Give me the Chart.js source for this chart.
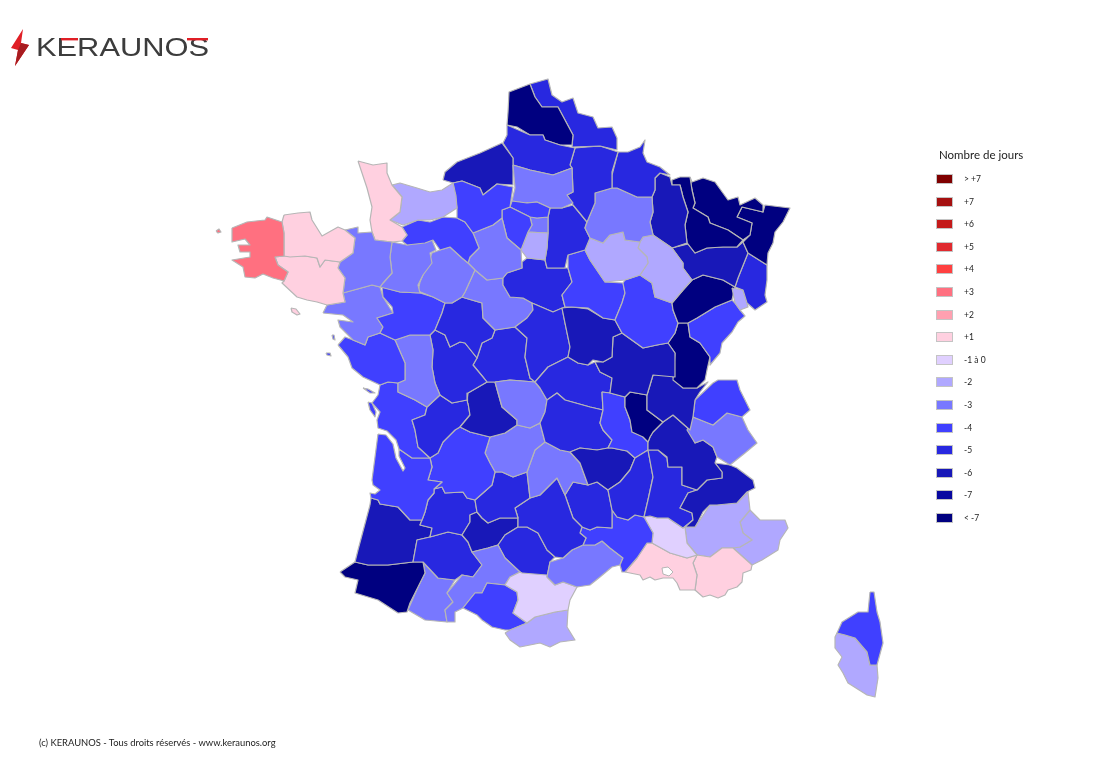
<!DOCTYPE html>
<html lang="fr">
<head>
<meta charset="utf-8">
<title>Nombre de jours - KERAUNOS</title>
<script src="https://cdn.jsdelivr.net/npm/chart.js@4/dist/chart.umd.min.js"></script>
<style>
  html, body { margin: 0; padding: 0; background: #fff; }
  body { width: 1098px; height: 777px; position: relative; overflow: hidden; font-family: Lato, "Open Sans", sans-serif; color: #222; }
  canvas { position: absolute; left: 0; top: 0; }
  #logo { position: absolute; left: 0; top: 20px; }
  #legendTitle { position: absolute; left: 939px; top: 148px; font-size: 11.5px; white-space: nowrap; }
  #footer { position: absolute; left: 39px; top: 737px; font-size: 9.4px; white-space: nowrap; }
  .swatch { position: absolute; left: 936px; width: 15px; height: 8px; border: 1px solid #c4c4c4; }
  .swatchLabel { position: absolute; left: 964px; font-size: 8.5px; line-height: 10px; white-space: nowrap; }
</style>
</head>
<body>
<canvas id="map" width="1098" height="777"></canvas>
<svg id="logo" width="220" height="55" viewBox="0 0 220 55">
  <polygon points="11,28 23,9 21,23 29,25 15,46 18,30" fill="#e01f26"/>
  <polygon points="21,23 29,25 15,46 18,30" fill="#a81c20"/>
  <text x="36" y="36" font-family="'Liberation Sans', sans-serif" font-size="25" fill="#3c3c3c" textLength="173" lengthAdjust="spacingAndGlyphs">KERAUNOS</text>
  <rect x="61" y="18" width="17" height="2.4" fill="#e01f26"/>
  <rect x="187" y="18" width="21" height="2.4" fill="#e01f26"/>
</svg>
<div id="legendTitle">Nombre de jours</div>
<div id="footer">(c) KERAUNOS - Tous droits réservés - www.keraunos.org</div>
<script>
// legend classes, top to bottom
const legendLabels = ["> +7", "+7", "+6", "+5", "+4", "+3", "+2", "+1", "-1 à 0", "-2", "-3", "-4", "-5", "-6", "-7", "< -7"];
const legendDays = [8, 7, 6, 5, 4, 3, 2, 1, -1, -2, -3, -4, -5, -6, -7, -8];
const legendColors = ["#7f0000", "#a51010", "#c41a1a", "#e02a2f", "#ff4040", "#ff7080", "#ffa0b0", "#ffd0e0",
  "#e0d0ff", "#b0a8ff", "#7878ff", "#4040ff", "#2828e0", "#1818b8", "#0808a0", "#000080"];

// department outlines, x,y pairs in map units
const finistere = [232,228,247,222,265,220,267,217,282,222,284,233,284,256,275,257,278,265,288,272,284,281,273,278,263,274,255,278,245,277,243,267,232,260,250,257,250,252,240,252,238,245,250,245,245,239,232,242];
const cotesArmor = [284,215,298,213,310,212,312,220,322,236,338,227,345,230,355,238,353,253,340,262,325,260,320,267,317,258,305,256,290,257,284,256,284,233,282,222];
const morbihan = [275,257,284,256,305,256,317,258,320,267,325,260,340,262,338,268,345,278,343,293,345,302,327,305,317,302,307,300,297,297,282,283,284,281,288,272,278,265];
const illeVilaine = [345,230,358,227,358,233,372,232,375,240,392,242,390,257,392,273,383,283,380,287,372,285,343,293,345,278,338,268,340,262,353,253,355,238];
const manche = [358,161,373,165,387,163,387,173,392,185,402,197,400,212,390,220,402,227,407,235,402,241,392,242,375,240,372,232,370,220,372,207,367,188,362,173];
const calvados = [392,185,400,183,417,188,430,192,442,190,453,183,456,196,457,208,443,217,430,220,418,220,403,225,390,220,400,212,402,197];
const eure = [453,183,462,181,480,188,483,195,497,184,513,187,510,207,502,210,502,218,493,225,473,233,465,222,457,218,457,208];
const orne = [402,227,418,220,430,222,443,217,457,218,465,222,473,233,479,248,470,257,468,263,462,258,450,247,440,250,433,240,425,243,407,245,402,241,407,235];
const mayenne = [392,242,407,245,427,242,432,240,436,250,430,253,432,263,423,275,418,285,420,293,400,292,380,287,383,283,392,273,390,257];
const sarthe = [418,291,420,282,428,263,432,253,440,250,450,247,462,258,468,263,475,270,465,292,462,297,452,303,445,303,433,297];
const eureLoir = [473,233,493,225,502,218,507,238,521,250,522,268,507,273,503,278,487,280,475,270,468,263,470,257,479,248];
const yvelines = [502,210,510,207,530,217,532,225,528,232,521,250,507,238,502,218];
const valOise = [510,207,512,201,527,203,537,202,550,208,548,217,537,218,530,217];
const essonne = [528,232,548,233,547,248,545,260,527,258,521,250];
const petiteCouronne = [530,217,537,218,548,217,548,233,528,232,532,225];
const paris = [534,224,540,221,545,225,539,228];
const oise = [513,165,530,170,553,175,572,168,573,192,567,195,573,203,562,208,550,208,537,202,525,203,512,201,515,188];
const seineMaritime = [443,180,445,172,457,162,480,153,502,143,513,158,513,185,497,184,483,195,480,188,462,181,453,183];
const somme = [503,143,507,135,507,125,530,135,543,135,545,140,560,145,575,148,570,165,572,168,553,175,530,170,513,165,513,158];
const pasDeCalais = [508,112,509,92,530,84,535,97,542,107,558,107,573,135,572,145,560,145,545,140,543,135,530,135,517,127,507,125];
const nord = [530,84,548,79,552,95,562,102,573,98,578,113,593,117,598,128,612,127,617,138,617,150,600,146,572,147,573,135,558,107,542,107,535,97];
const aisne = [575,148,600,146,618,152,612,172,612,188,595,193,595,203,587,222,573,205,567,195,573,192,572,168,570,165];
const ardennes = [618,152,628,152,640,147,645,140,643,153,647,162,660,167,670,175,660,173,655,178,655,190,652,197,637,197,617,188,612,188,612,175];
const marne = [587,222,595,203,595,193,612,188,617,188,637,197,652,197,653,212,650,222,653,235,643,237,640,242,625,240,623,232,610,235,603,243,590,238,585,228];
const seineMarne = [550,208,562,208,573,205,587,222,585,228,590,238,585,250,568,255,565,268,547,268,545,260,547,248,548,233,548,217];
const aube = [585,250,590,238,603,243,610,235,623,232,625,240,640,242,638,248,647,257,648,263,640,275,625,280,605,282,590,260];
const hauteMarne = [640,242,643,237,653,235,672,248,683,263,683,268,692,280,683,290,672,303,655,297,652,283,640,275,648,263,647,257,638,248];
const meuse = [655,178,660,173,670,177,672,185,680,185,683,197,688,212,685,225,687,243,672,248,653,235,650,222,653,212,652,197,655,190];
const meurtheMoselle = [672,180,680,177,690,177,692,190,695,203,693,208,708,217,710,223,728,230,743,240,737,247,723,247,707,248,695,253,688,244,687,243,685,225,688,212,683,197,680,185,672,185];
const moselle = [690,177,692,182,703,178,715,182,728,200,738,197,740,205,755,198,763,205,763,212,742,207,737,217,752,223,750,235,743,240,728,230,710,223,708,217,693,208,695,203,692,190];
const basRhin = [742,207,763,212,765,205,790,208,783,222,775,232,773,243,768,253,767,265,748,253,743,242,750,235,752,223,737,217];
const vosges = [672,248,688,244,695,253,707,248,723,247,737,247,743,242,748,253,738,278,735,287,723,280,703,275,692,280,683,268,683,263];
const hautRhin = [748,253,767,265,767,280,765,295,767,302,755,310,747,303,743,290,735,287,738,278];
const belfort = [732,288,743,290,747,303,748,307,740,310,735,303];
const hauteSaone = [672,303,683,290,692,280,703,275,723,280,735,287,732,300,715,307,697,318,688,323,678,323,673,310];
const doubs = [688,323,697,318,715,307,732,300,735,303,740,310,745,316,738,322,732,332,722,343,720,353,710,365,710,357,700,343,690,337];
const coteOr = [623,283,625,280,640,275,652,283,655,297,672,303,673,310,678,323,675,333,668,343,657,345,643,348,622,333,615,320,622,303,625,293];
const yonne = [568,268,572,282,562,295,565,307,572,307,588,308,603,318,615,320,622,303,625,293,623,283,605,282,590,260,585,250,568,255];
const nievre = [562,308,572,307,588,309,603,318,615,320,622,333,613,337,612,357,603,362,593,360,588,365,578,363,568,357,570,347,565,323];
const saoneLoire = [595,362,603,362,612,357,613,337,622,333,643,348,657,345,668,343,675,353,675,377,653,375,647,395,630,392,625,397,610,393,612,378,600,372];
const jura = [678,323,688,323,690,337,700,343,710,357,707,370,705,380,697,388,683,388,673,380,675,353,668,343,675,333];
const ain = [653,375,667,374,675,378,683,388,697,388,708,382,700,392,695,400,693,417,690,430,673,415,663,422,647,410,647,395];
const hauteSavoie = [695,400,713,383,718,380,737,380,740,390,750,410,742,417,727,413,713,425,693,417];
const savoie = [693,417,713,425,727,413,742,417,748,430,757,443,745,453,730,465,717,457,713,447,703,440,695,443,687,430];
const rhone = [630,392,647,395,647,410,663,422,653,432,650,437,648,442,643,437,632,432,630,420,625,407,625,397];
const isere = [663,422,673,415,690,430,695,443,703,440,713,447,717,457,715,463,722,472,722,478,707,480,697,490,682,485,682,467,668,467,667,457,658,450,648,450,648,442,650,437,653,432];
const hautesAlpes = [715,463,730,465,737,468,753,480,755,488,747,492,737,503,717,505,710,505,703,512,698,522,695,527,685,527,693,520,692,513,680,508,688,493,697,490,707,480,722,478,722,472];
const drome = [648,450,658,450,667,458,668,467,682,467,682,485,697,490,688,493,680,508,692,513,693,520,683,528,668,518,657,518,650,516,644,517,648,500,653,477];
const ardeche = [648,450,653,477,648,500,644,517,635,515,628,520,617,517,612,510,608,490,620,482,630,470,635,458];
const loire = [602,392,610,393,625,397,625,407,630,420,632,432,642,436,648,442,648,450,635,458,627,451,612,448,608,448,612,440,603,430,600,423,603,410];
const hauteLoire = [570,452,580,448,597,450,608,448,612,448,627,451,635,458,630,470,620,482,608,490,597,482,588,485,580,463];
const puyDeDome = [547,400,557,393,565,400,590,407,603,410,600,423,603,430,612,440,608,448,597,450,580,448,570,452,560,450,545,442,540,423,545,412];
const allier = [535,382,548,367,568,357,578,363,588,365,595,362,600,372,612,378,610,393,602,392,603,410,590,407,565,400,557,393,547,400,540,388];
const cher = [515,327,527,318,533,310,532,303,553,312,562,308,565,323,570,347,568,357,548,367,535,382,530,378,525,357,527,338];
const loiret = [522,262,527,258,545,260,547,268,565,268,568,268,572,282,562,295,565,307,553,312,532,303,523,298,510,297,503,285,503,278,507,273,522,268];
const loirCher = [475,270,487,280,503,278,503,285,510,297,523,298,532,303,533,310,527,318,515,327,495,330,483,318,482,303,465,298,462,297,465,292];
const indreLoire = [445,303,452,303,462,297,465,298,482,303,483,318,495,330,492,338,482,343,477,358,465,343,460,342,450,347,445,335,435,330,442,313];
const maineLoire = [382,287,400,292,420,293,433,297,445,303,442,313,435,330,430,335,410,335,395,340,380,333,383,327,377,318,393,313,392,307,383,297];
const loireAtlantique = [323,313,327,305,345,302,343,293,372,285,380,287,383,297,393,313,377,318,383,327,380,333,368,337,365,345,353,340,340,327,338,320,353,322,343,315];
const vendee = [338,345,345,337,353,340,365,345,368,337,380,333,395,340,405,363,405,380,398,383,388,382,380,385,363,377,352,368,348,357];
const deuxSevres = [395,340,410,335,430,335,433,350,432,367,435,383,440,395,427,407,415,400,398,392,398,383,405,380,405,363];
const vienne = [430,335,435,330,445,335,450,347,460,342,465,343,477,358,473,365,483,377,487,382,468,393,467,400,452,403,440,395,435,383,432,367,433,350];
const creuse = [495,382,510,380,535,382,540,388,547,400,545,412,540,423,530,428,517,425,517,420,502,407];
const indre = [477,358,482,343,492,338,495,330,515,327,527,338,525,357,530,378,535,382,510,380,495,382,487,382,483,377,473,365];
const hauteVienne = [468,393,487,382,495,382,502,407,517,420,517,425,505,433,490,437,470,432,460,427,470,415,468,403,467,400];
const charente = [412,420,425,415,427,407,440,395,452,403,467,400,468,403,470,415,460,427,455,430,443,442,438,453,430,458,418,447,415,430];
const charenteMaritime = [380,385,388,382,398,383,398,392,415,400,427,407,425,415,412,420,415,430,418,447,430,458,412,458,399,449,396,440,387,431,378,428,377,420,380,412,372,403,378,395];
const gironde = [378,434,386,435,393,444,396,458,403,471,405,468,399,456,399,449,412,458,430,458,432,467,428,480,442,482,434,489,434,493,428,500,425,512,422,520,410,520,398,507,380,504,378,500,371,498,370,493,375,494,380,490,373,485,372,480];
const dordogne = [430,458,438,453,443,442,455,430,460,427,470,432,490,437,485,453,490,463,495,472,492,485,475,500,467,498,463,492,445,493,442,487,434,489,442,482,428,480,432,467];
const correze = [490,437,505,433,517,425,530,428,540,423,545,442,535,450,527,472,513,477,502,472,495,472,490,463,485,453];
const cantal = [535,450,545,442,560,450,570,452,580,463,588,485,573,482,565,495,557,478,540,495,530,498,527,472];
const lot = [475,500,492,485,495,472,502,472,513,477,527,472,530,498,515,508,518,518,500,518,488,523,482,518,477,512];
const aveyron = [515,508,530,498,540,495,557,478,565,495,573,518,582,527,580,533,586,538,583,545,572,550,563,558,555,557,547,550,538,533,527,527,518,527,518,518];
const lozere = [565,495,573,482,588,485,597,482,608,490,612,510,612,528,597,527,590,530,582,527,573,518];
const gard = [582,527,590,530,597,527,612,528,612,510,617,517,628,520,635,515,644,517,653,533,652,543,647,543,637,558,625,572,622,572,620,565,623,558,610,548,602,541,595,545,583,545,586,538,580,533];
const herault = [547,577,550,562,563,558,572,550,583,545,595,545,602,541,610,548,623,558,620,565,612,567,600,577,590,585,577,587,563,582,555,585];
const aude = [505,585,510,577,520,572,522,573,547,575,547,577,555,585,563,582,577,587,570,600,568,610,555,612,535,617,527,623,513,613,518,600,517,592];
const pyreneesOrientales = [505,633,510,630,527,623,535,617,555,612,568,610,567,627,575,640,560,642,550,647,540,643,520,647,510,640];
const ariege = [463,608,475,593,482,593,487,583,505,585,517,592,518,600,513,613,527,623,510,630,505,630,492,627,482,620,477,615];
const hauteGaronne = [447,593,462,575,473,577,482,565,472,552,488,548,498,545,505,558,520,572,510,577,505,585,487,583,482,593,475,593,463,608,455,612,455,622,447,622,445,610,453,602];
const tarn = [498,545,505,535,518,527,527,527,538,533,547,550,555,557,550,562,547,577,522,573,520,572,505,558];
const tarnGaronne = [462,535,470,522,470,515,477,512,482,518,488,523,500,518,518,518,518,527,505,535,498,545,488,548,472,552,468,542];
const lotGaronne = [422,520,425,512,428,500,434,493,434,489,442,487,445,493,463,492,467,498,475,500,477,512,470,515,470,522,462,535,448,532,430,537,432,528,420,525];
const gers = [413,562,417,540,430,537,448,532,462,535,468,542,472,552,482,565,473,577,462,575,455,580,438,578,423,562];
const landes = [370,505,358,550,355,562,368,565,388,565,413,562,417,540,430,537,432,528,420,525,422,520,410,520,398,507,380,504,378,500,371,498];
const pyreneesAtlantiques = [340,572,355,562,368,565,388,565,413,562,423,562,425,573,418,587,410,603,407,612,398,613,378,600,355,593,358,580,345,577];
const hautesPyrenees = [423,562,438,578,455,580,447,593,453,602,445,610,447,622,425,620,408,610,418,587,425,573];
const vaucluse = [644,517,650,516,657,518,668,518,683,528,685,527,687,543,697,555,687,558,670,553,652,543,653,533];
const valreas = [655,510,660,509,662,515,655,518];
const bouchesRhone = [625,572,637,558,647,543,652,543,670,553,687,558,697,555,693,563,697,575,695,590,680,590,677,583,673,578,663,578,655,580,650,577,643,580,640,575];
const varDept = [697,555,710,557,722,548,733,548,752,565,751,570,743,573,742,582,737,587,728,590,725,595,718,598,710,595,703,597,695,590,697,575,693,563];
const alpesHauteProvence = [685,527,695,527,700,520,710,505,717,505,737,503,748,492,750,510,740,522,743,533,752,540,740,547,733,548,722,548,710,557,697,555,687,543];
const alpesMaritimes = [750,510,760,520,785,520,788,528,780,540,778,550,762,560,752,565,733,548,740,547,752,540,743,533,740,522];
const hauteCorse = [870,592,874,592,877,612,880,622,883,643,877,665,870,665,867,652,855,638,845,635,837,633,842,622,858,612,868,612];
const corseDuSud = [837,633,845,635,855,638,867,652,870,665,877,665,878,678,875,697,867,695,848,683,843,673,838,665,842,657,835,648,835,637];
const ouessant = [216,231,219,229,221,232,218,233];
const belleIle = [291,308,296,309,300,314,297,315,292,312];
const noirmoutier = [332,335,334,335,335,340,333,339];
const yeu = [326,353,330,353,331,356,327,355];
const re = [363,388,368,389,375,393,370,393];
const oleron = [368,402,372,403,376,412,375,417,370,410];
const etangBerre = [662,568,668,567,673,572,669,576,663,574];

const deptNames = ["Finistère", "Côtes-d'Armor", "Morbihan", "Ille-et-Vilaine", "Manche", "Calvados", "Eure", "Orne", "Mayenne", "Sarthe",
  "Eure-et-Loir", "Yvelines", "Val-d'Oise", "Essonne", "Petite couronne", "Paris", "Oise", "Seine-Maritime", "Somme", "Pas-de-Calais",
  "Nord", "Aisne", "Ardennes", "Marne", "Seine-et-Marne", "Aube", "Haute-Marne", "Meuse", "Meurthe-et-Moselle", "Moselle",
  "Bas-Rhin", "Vosges", "Haut-Rhin", "Belfort", "Haute-Saône", "Doubs", "Côte-d'Or", "Yonne", "Nièvre", "Saône-et-Loire",
  "Jura", "Ain", "Haute-Savoie", "Savoie", "Rhône", "Isère", "Hautes-Alpes", "Drôme", "Ardèche", "Loire",
  "Haute-Loire", "Puy-de-Dôme", "Allier", "Cher", "Loiret", "Loir-et-Cher", "Indre-et-Loire", "Maine-et-Loire", "Loire-Atlantique", "Vendée",
  "Deux-Sèvres", "Vienne", "Creuse", "Indre", "Haute-Vienne", "Charente", "Charente-Maritime", "Gironde", "Dordogne", "Corrèze",
  "Cantal", "Lot", "Aveyron", "Lozère", "Gard", "Hérault", "Aude", "Pyrénées-Orientales", "Ariège", "Haute-Garonne",
  "Tarn", "Tarn-et-Garonne", "Lot-et-Garonne", "Gers", "Landes", "Pyrénées-Atlantiques", "Hautes-Pyrénées", "Vaucluse", "Valréas", "Bouches-du-Rhône",
  "Var", "Alpes-de-Haute-Provence", "Alpes-Maritimes", "Haute-Corse", "Corse-du-Sud", "Ouessant", "Belle-Île", "Noirmoutier", "Yeu", "Ré", "Oléron"];

const deptDays = [3, 1, 1, -3, 1, -2, -4, -4, -3, -3,
  -3, -4, -4, -2, -3, -4, -3, -6, -5, -8,
  -5, -5, -5, -3, -5, -2, -2, -6, -8, -8,
  -8, -6, -5, -2, -8, -4, -4, -4, -6, -6,
  -8, -6, -4, -3, -8, -6, -6, -5, -5, -4,
  -6, -5, -5, -5, -5, -3, -5, -4, -3, -4,
  -3, -5, -3, -5, -6, -5, -4, -4, -4, -3,
  -3, -5, -5, -5, -4, -3, -1, -2, -4, -3,
  -5, -6, -5, -5, -6, -8, -3, -1, -1, 1,
  1, -2, -2, -4, -2, 3, 1, -4, -4, -4, -4];

const deptOutlines = [finistere, cotesArmor, morbihan, illeVilaine, manche, calvados, eure, orne, mayenne, sarthe,
  eureLoir, yvelines, valOise, essonne, petiteCouronne, paris, oise, seineMaritime, somme, pasDeCalais,
  nord, aisne, ardennes, marne, seineMarne, aube, hauteMarne, meuse, meurtheMoselle, moselle,
  basRhin, vosges, hautRhin, belfort, hauteSaone, doubs, coteOr, yonne, nievre, saoneLoire,
  jura, ain, hauteSavoie, savoie, rhone, isere, hautesAlpes, drome, ardeche, loire,
  hauteLoire, puyDeDome, allier, cher, loiret, loirCher, indreLoire, maineLoire, loireAtlantique, vendee,
  deuxSevres, vienne, creuse, indre, hauteVienne, charente, charenteMaritime, gironde, dordogne, correze,
  cantal, lot, aveyron, lozere, gard, herault, aude, pyreneesOrientales, ariege, hauteGaronne,
  tarn, tarnGaronne, lotGaronne, gers, landes, pyreneesAtlantiques, hautesPyrenees, vaucluse, valreas, bouchesRhone,
  varDept, alpesHauteProvence, alpesMaritimes, hauteCorse, corseDuSud, ouessant, belleIle, noirmoutier, yeu, re, oleron];

function toPoints(flat) {
  const points = [];
  for (let i = 0; i < flat.length; i += 2) {
    points.push({ x: flat[i], y: flat[i + 1] });
  }
  points.push({ x: flat[0], y: flat[1] });
  return points;
}

function colorForDays(days) {
  return legendColors[legendDays.indexOf(days)];
}

const datasets = deptOutlines.map((outline, i) => ({
  label: deptNames[i],
  data: toPoints(outline),
  showLine: true,
  fill: "shape",
  backgroundColor: colorForDays(deptDays[i]),
  borderColor: "#b6b6b6",
  borderWidth: 1.2,
  borderJoinStyle: "round",
  pointRadius: 0,
  tension: 0,
}));

// the lagoon is left white on top of the Bouches-du-Rhône
datasets.unshift({
  label: "Étang de Berre",
  data: toPoints(etangBerre),
  showLine: true,
  fill: "shape",
  backgroundColor: "#ffffff",
  borderColor: "#b6b6b6",
  borderWidth: 1,
  pointRadius: 0,
  tension: 0,
});

new Chart(document.getElementById("map"), {
  type: "scatter",
  data: { datasets },
  options: {
    responsive: false,
    animation: false,
    layout: { padding: 0 },
    scales: {
      x: { type: "linear", min: 0, max: 1098, display: false },
      y: { type: "linear", min: 0, max: 777, reverse: true, display: false },
    },
    plugins: {
      legend: { display: false },
      tooltip: { enabled: false },
    },
  },
});

// legend column
legendLabels.forEach((label, i) => {
  const rowY = 179 + i * 22.6;
  const swatch = document.createElement("div");
  swatch.className = "swatch";
  swatch.style.top = (rowY - 5) + "px";
  swatch.style.background = legendColors[i];
  document.body.appendChild(swatch);
  const text = document.createElement("div");
  text.className = "swatchLabel";
  text.style.top = (rowY - 5) + "px";
  text.textContent = label;
  document.body.appendChild(text);
});
</script>
</body>
</html>
